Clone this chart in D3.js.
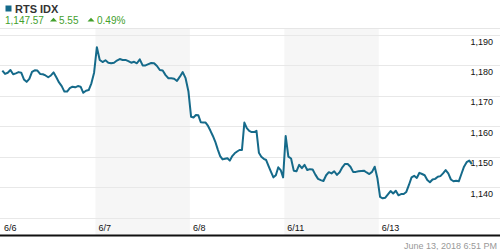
<!DOCTYPE html>
<html lang="en">
<head>
<meta charset="UTF-8">
<title>RTS IDX</title>
<script src="https://d3js.org/d3.v7.min.js"></script>
<style>
  body { margin: 0; background: #fff; }
  svg { display: block; font-family: "Liberation Sans", Arial, sans-serif; }
  .grid line { stroke: #e8e8e8; stroke-width: 1; }
  .band { fill: #f6f6f6; }
  .tick-label { font-size: 9px; fill: #111; }
</style>
</head>
<body>
<svg width="500" height="250"></svg>
<script>
  // session labels (6/12 was a holiday, no trading)
  const days = ["6/6", "6/7", "6/8", "6/11", "6/13"];

  // intraday values per session
  const s0606 = [1178.3, 1177.2, 1177.6, 1178.5, 1177.1, 1177.4, 1177.8, 1177.6, 1175.4, 1174.6,
    1175.6, 1177.9, 1178.4, 1178.3, 1177.2, 1177.1, 1176.7, 1176.1, 1176.7, 1177.7,
    1176.1, 1174.4, 1173.2, 1171.4, 1171.4, 1172.5, 1173.0, 1172.8, 1173.2, 1173.0,
    1171.0, 1171.7, 1171.9, 1174.1, 1177.6];
  const s0607 = [1186.0, 1181.8, 1181.1, 1181.7, 1180.9, 1180.7, 1180.9, 1181.6, 1182.1, 1181.8,
    1181.8, 1181.4, 1180.9, 1181.2, 1180.7, 1182.0, 1180.0, 1180.0, 1180.4, 1180.8,
    1180.7, 1179.8, 1178.5, 1178.3, 1176.8, 1175.8, 1175.8, 1175.6, 1174.9, 1176.3,
    1177.8, 1175.8, 1171.4];
  const s0608 = [1163.1, 1162.9, 1163.7, 1163.6, 1161.3, 1161.2, 1161.2, 1160.1, 1158.5, 1156.8,
    1154.9, 1152.4, 1150.2, 1149.1, 1149.3, 1149.5, 1148.7, 1150.2, 1151.1, 1151.7,
    1152.2, 1152.2, 1161.2, 1159.4, 1158.5, 1158.1, 1158.1, 1158.5, 1151.3, 1150.0,
    1149.3, 1148.9, 1146.9, 1145.0, 1143.2, 1143.9, 1146.5, 1145.6, 1143.2];
  const s0611 = [1156.8, 1150.0, 1149.4, 1145.4, 1145.2, 1147.3, 1146.2, 1147.3, 1145.6, 1145.9,
    1145.8, 1144.1, 1142.7, 1142.3, 1142.0, 1143.9, 1144.9, 1144.5, 1145.2, 1144.0,
    1144.9, 1146.5, 1147.6, 1147.6, 1146.7, 1145.0, 1145.0, 1145.2, 1145.3, 1145.4,
    1144.8, 1144.3, 1145.0, 1146.7, 1142.9];
  const s0613 = [1136.8, 1136.3, 1136.5, 1137.6, 1138.7, 1137.9, 1138.8, 1137.3, 1137.7, 1137.7,
    1138.4, 1140.7, 1143.2, 1143.7, 1143.0, 1144.7, 1144.3, 1143.9, 1142.3, 1141.6,
    1142.5, 1142.7, 1143.4, 1143.6, 1144.5, 1145.6, 1144.5, 1142.5, 1141.9, 1142.1,
    1141.9, 1144.3, 1146.7, 1148.2, 1148.7, 1147.57];

  const sessions = [s0606, s0607, s0608, s0611, s0613];

  // y ticks (1,130 has a gridline but no label)
  const yTicks = [1130, 1140, 1150, 1160, 1170, 1180, 1190];
  const yLabelled = [1140, 1150, 1160, 1170, 1180, 1190];

  // header
  const title = "RTS IDX";
  const lastValue = 1147.57;
  const change = 5.55;
  const changePct = 0.49;
  const stamp = "June 13, 2018 6:51 PM";

  const lineColor = "#156a8a";
  const green = "#43a02c";

  const svg = d3.select("svg");
  const plotTop = 29, axisY = 235.5;

  const x = d3.scaleLinear().domain([0, days.length]).range([1, 473.2]);
  const y = d3.scaleLinear().domain([1130, 1190]).range([217.5, 35]);

  const fmt = d3.format(",");

  // alternating session bands
  svg.selectAll(".band")
    .data(days.map((d, i) => i).filter(i => i % 2 === 1))
    .enter().append("rect")
    .attr("class", "band")
    .attr("x", i => x(i))
    .attr("width", i => x(i + 1) - x(i))
    .attr("y", plotTop)
    .attr("height", axisY - plotTop);

  // header separator
  svg.append("line")
    .attr("x1", 0).attr("x2", 500)
    .attr("y1", 28.5).attr("y2", 28.5)
    .attr("stroke", "#e6e6e6");

  // gridlines
  const grid = svg.append("g").attr("class", "grid");
  grid.selectAll("line")
    .data(yTicks)
    .enter().append("line")
    .attr("x1", 0).attr("x2", 500)
    .attr("y1", d => Math.round(y(d)) + 0.5)
    .attr("y2", d => Math.round(y(d)) + 0.5);

  // y labels, right side, below their gridline
  svg.selectAll(".ylab")
    .data(yLabelled)
    .enter().append("text")
    .attr("class", "tick-label")
    .attr("x", 493)
    .attr("y", d => y(d) + 9.5)
    .attr("text-anchor", "end")
    .text(d => fmt(d));

  // x labels at each session start
  svg.selectAll(".xlab")
    .data(days)
    .enter().append("text")
    .attr("class", "tick-label")
    .attr("x", (d, i) => x(i) + 3)
    .attr("y", 230.5)
    .text(d => d);

  // bottom axis line
  svg.append("line")
    .attr("x1", 0).attr("x2", 500)
    .attr("y1", axisY).attr("y2", axisY)
    .attr("stroke", "#111")
    .attr("stroke-width", 2);

  // price line
  const points = [];
  sessions.forEach((vals, d) => {
    vals.forEach((v, i) => points.push([d + (i + 0.5) / vals.length, v]));
  });

  svg.append("path")
    .datum(points)
    .attr("fill", "none")
    .attr("stroke", lineColor)
    .attr("stroke-width", 2)
    .attr("stroke-linejoin", "round")
    .attr("d", d3.line().x(p => x(p[0])).y(p => y(p[1])));

  // header
  svg.append("rect")
    .attr("x", 5.5).attr("y", 5.5)
    .attr("width", 6).attr("height", 6)
    .attr("fill", lineColor);

  svg.append("text")
    .attr("x", 15).attr("y", 12.5)
    .attr("font-size", 11)
    .attr("font-weight", "bold")
    .attr("fill", "#333")
    .text(title);

  const sub = svg.append("text")
    .attr("x", 5).attr("y", 24)
    .attr("font-size", 10)
    .attr("fill", green);
  sub.append("tspan").text(d3.format(",.2f")(lastValue));
  sub.append("tspan").attr("x", 59).text(change.toFixed(2));
  sub.append("tspan").attr("x", 97).text(changePct.toFixed(2) + "%");

  // small up arrows before the change values
  [[50, 57], [87.5, 94.5]].forEach(([x0, x1]) => {
    svg.append("path")
      .attr("d", `M${x0},21.5L${(x0 + x1) / 2},17.8L${x1},21.5Z`)
      .attr("fill", green);
  });

  // timestamp
  svg.append("text")
    .attr("x", 497).attr("y", 248.5)
    .attr("text-anchor", "end")
    .attr("font-size", 9)
    .attr("fill", "#999")
    .text(stamp);
</script>
</body>
</html>
